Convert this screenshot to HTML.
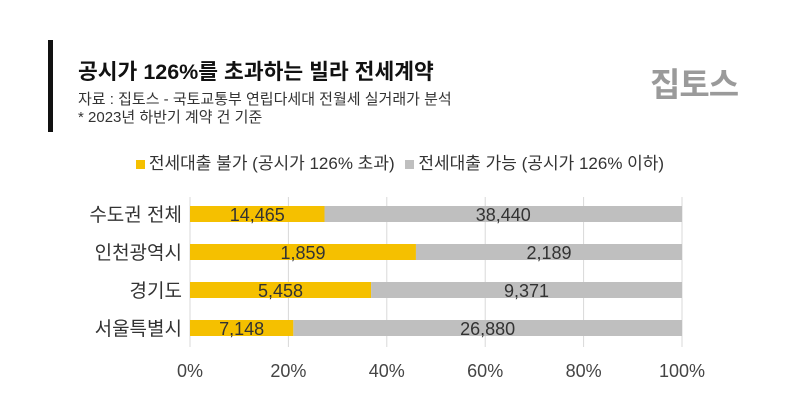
<!DOCTYPE html>
<html><head><meta charset="utf-8"><style>
body{margin:0;width:800px;height:417px;background:#fff;font-family:"Liberation Sans","Noto Sans CJK KR",sans-serif;position:relative;overflow:hidden;color:#222}
.abs{position:absolute;white-space:nowrap}
</style></head><body>
<div class="abs" style="left:48px;top:40px;width:5px;height:92px;background:#111"></div>
<div class="abs" style="left:78px;top:55px;font-size:21.5px;font-weight:bold;color:#111">공시가 126%를 초과하는 빌라 전세계약</div>
<div class="abs" style="left:78px;top:88px;font-size:15px;color:#333">자료 : 집토스 - 국토교통부 연립다세대 전월세 실거래가 분석</div>
<div class="abs" style="left:78px;top:106px;font-size:15px;color:#333">* 2023년 하반기 계약 건 기준</div>
<div class="abs" style="left:650px;top:58px;font-size:33px;font-weight:bold;color:#9a9a9a;letter-spacing:-1px">집토스</div>
<div class="abs" style="left:0;width:800px;top:149px;text-align:center;font-size:17px;color:#333">
<span><span style="display:inline-block;width:9px;height:9px;background:#f5c000;margin-right:4px"></span>전세대출 불가 (공시가 126% 초과)</span>
<span style="margin-left:6px"><span style="display:inline-block;width:9px;height:9px;background:#bfbfbf;margin-right:4px"></span>전세대출 가능 (공시가 126% 이하)</span>
</div>
<svg id="chart" width="800" height="417" style="position:absolute;left:0;top:0" font-family="Liberation Sans, Noto Sans CJK KR, sans-serif"></svg>
<script>
const categories=["수도권 전체","인천광역시","경기도","서울특별시"];
const overValues=[14465,1859,5458,7148];
const underValues=[38440,2189,9371,26880];
const tickLabels=["0%","20%","40%","60%","80%","100%"];
const tickValues=[0,20,40,60,80,100];
const svg=document.getElementById('chart');
const NS='http://www.w3.org/2000/svg';
const x0=190,x1=682,yTop=197,yBot=347,rowStart=214,rowStep=38,barH=16;
const xs=p=>x0+(x1-x0)*p/100;
const ys=i=>rowStart+i*rowStep;
const fmt=v=>v.toLocaleString('en-US');
function mk(t,a){const e=document.createElementNS(NS,t);for(const k in a)e.setAttribute(k,a[k]);svg.appendChild(e);return e;}
tickValues.forEach((v,i)=>{
 const g=mk('line',{x1:xs(v),x2:xs(v),y1:yTop,y2:yBot,stroke:'#d9d9d9','stroke-width':1});
 
 
 const t=mk('text',{x:xs(v),y:377,'text-anchor':'middle','font-size':18,fill:'#444'});
 t.textContent=tickLabels[i];
 
 
});
categories.forEach((c,i)=>{
 const tot=overValues[i]+underValues[i];
 const p=overValues[i]/tot*100;
 const y=ys(i);
 const a=mk('rect',{x:xs(0),y:y-barH/2,width:xs(p)-xs(0),height:barH,fill:'#f5c000'});
 
 
 const b=mk('rect',{x:xs(p),y:y-barH/2,width:xs(100)-xs(p),height:barH,fill:'#bfbfbf'});
 
 
 const l=mk('text',{x:182,y:y+7,'text-anchor':'end','font-size':19,fill:'#333'});
 l.textContent=c;
 
 
 const t1=mk('text',{x:(xs(0)+xs(p))/2,y:y+7,'text-anchor':'middle','font-size':18,fill:'#333'});
 t1.textContent=fmt(overValues[i]);
 
 
 const t2=mk('text',{x:(xs(p)+xs(100))/2,y:y+7,'text-anchor':'middle','font-size':18,fill:'#333'});
 t2.textContent=fmt(underValues[i]);
 
 
});
</script>
</body></html>
